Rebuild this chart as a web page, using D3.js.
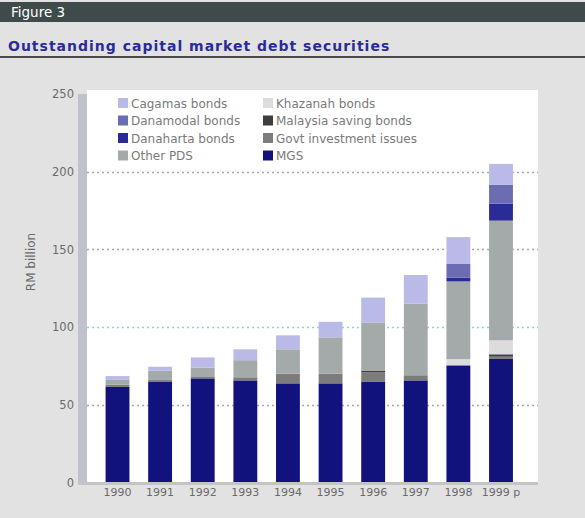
<!DOCTYPE html>
<html>
<head>
<meta charset="utf-8">
<script src="https://cdn.jsdelivr.net/npm/d3@7"></script>
<style>
  html, body { margin: 0; padding: 0; background: #e2e2e2; }
  svg { display: block; }
</style>
</head>
<body>
<svg id="chart" width="585" height="518"></svg>
<script>
// Outstanding capital market debt securities, RM billion
const years = ["1990", "1991", "1992", "1993", "1994", "1995", "1996", "1997", "1998", "1999 p"];

const mgs       = [61.5, 65.0, 67.0, 65.7, 63.8, 63.8, 65.0, 65.7, 75.4, 79.5];
const govtInv   = [1.5, 1.0, 1.3, 2.0, 6.2, 6.2, 6.0, 3.3, 0.0, 1.5];
const mySaving  = [0, 0, 0, 0, 0, 0, 1.0, 0, 0, 1.5];
const khazanah  = [0, 0, 0, 0, 0, 0, 0, 0, 4.0, 9.0];
const otherPds  = [3.0, 6.0, 5.7, 11.0, 15.7, 23.4, 31.0, 46.0, 50.0, 77.0];
const danaharta = [0, 0, 0, 0, 0, 0, 0, 0, 2.5, 11.0];
const danamodal = [0, 0, 0, 0, 0, 0, 0, 0, 9.0, 12.0];
const cagamas   = [2.5, 2.5, 6.5, 7.0, 9.0, 10.0, 16.0, 18.5, 17.0, 13.5];

const yTicks = [0, 50, 100, 150, 200, 250];

// stacking order, bottom to top
const series = [
  { key: "mgs",       name: "MGS",                    values: mgs,       color: "#12127c" },
  { key: "govtInv",   name: "Govt investment issues", values: govtInv,   color: "#7c7c7c" },
  { key: "mySaving",  name: "Malaysia saving bonds",  values: mySaving,  color: "#3e3e3e" },
  { key: "khazanah",  name: "Khazanah bonds",         values: khazanah,  color: "#dcdcdc" },
  { key: "otherPds",  name: "Other PDS",              values: otherPds,  color: "#a4a9a9" },
  { key: "danaharta", name: "Danaharta bonds",        values: danaharta, color: "#2b2b98" },
  { key: "danamodal", name: "Danamodal bonds",        values: danamodal, color: "#6c6cb2" },
  { key: "cagamas",   name: "Cagamas bonds",          values: cagamas,   color: "#babae8" }
];

// legend layout: two columns of four
const legendCols = [
  ["cagamas", "danamodal", "danaharta", "otherPds"],
  ["khazanah", "mySaving", "govtInv", "mgs"]
];

const table = years.map((yr, i) => {
  const row = { year: yr };
  series.forEach(s => { row[s.key] = s.values[i]; });
  return row;
});

const svg = d3.select("#chart");
const W = 585, H = 518;

// header band
svg.append("rect").attr("x", 0).attr("y", 2).attr("width", W).attr("height", 20).attr("fill", "#3f4a4a");
svg.append("text").attr("x", 11).attr("y", 17)
  .attr("font-family", "DejaVu Sans, sans-serif").attr("font-size", 13.5)
  .attr("fill", "#ffffff").text("Figure 3");

svg.append("text").attr("x", 8).attr("y", 51)
  .attr("font-family", "DejaVu Sans, sans-serif").attr("font-size", 14).attr("font-weight", "bold")
  .attr("letter-spacing", 1)
  .attr("fill", "#2a2a9c").text("Outstanding capital market debt securities");

svg.append("rect").attr("x", 0).attr("y", 56).attr("width", W).attr("height", 2).attr("fill", "#4a4a4a");

// plot area
const plot = { left: 87, right: 538, top: 90, bottom: 483 };

const x = d3.scaleBand().domain(years).range([96.2, 522.3]).paddingInner(0.44).paddingOuter(0.22);
const y = d3.scaleLinear().domain([0, 250]).range([482.5, 94]);

svg.append("rect").attr("x", plot.left).attr("y", plot.top)
  .attr("width", plot.right - plot.left).attr("height", plot.bottom - plot.top).attr("fill", "#ffffff");

// gridlines
const grid = svg.append("g");
yTicks.filter(t => t > 0 && t < 250).forEach(t => {
  grid.append("line")
    .attr("x1", plot.left).attr("x2", plot.right)
    .attr("y1", Math.round(y(t)) + 0.5).attr("y2", Math.round(y(t)) + 0.5)
    .attr("stroke", t === 100 ? "#7fd6de" : "#a8a8a8")
    .attr("stroke-width", 1.4)
    .attr("stroke-dasharray", "2,3");
});

// stacked bars
const stack = d3.stack().keys(series.map(s => s.key));
const stacked = stack(table);
const colorOf = Object.fromEntries(series.map(s => [s.key, s.color]));

svg.append("g").selectAll("g").data(stacked).join("g")
  .attr("fill", d => colorOf[d.key])
  .selectAll("rect").data(d => d).join("rect")
  .attr("x", d => x(d.data.year))
  .attr("width", x.bandwidth())
  .attr("y", d => y(d[1]))
  .attr("height", d => Math.max(0, y(d[0]) - y(d[1])));

// y axis: thick gray rail
svg.append("rect").attr("x", 78).attr("y", y(250)).attr("width", 9).attr("height", y(0) - y(250) + 1)
  .attr("fill", "#bfc2cc");

const yAxis = d3.axisLeft(y).tickValues(yTicks).tickSize(0).tickPadding(0);
const yg = svg.append("g").attr("transform", "translate(74,0)").call(yAxis);
yg.select(".domain").remove();
yg.selectAll("text").attr("font-family", "DejaVu Sans, sans-serif").attr("font-size", 11.5).attr("fill", "#6a6a6a");

// x axis
svg.append("rect").attr("x", 78).attr("y", 482).attr("width", plot.right - 78).attr("height", 3).attr("fill", "#c4c4c4");
const xAxis = d3.axisBottom(x).tickSize(0).tickPadding(0);
const xg = svg.append("g").attr("transform", "translate(0,488)").call(xAxis);
xg.select(".domain").remove();
xg.selectAll("text").attr("font-family", "DejaVu Sans, sans-serif").attr("font-size", 11).attr("fill", "#6a6a6a");

// axis title
svg.append("text")
  .attr("transform", "translate(35,262) rotate(-90)")
  .attr("text-anchor", "middle")
  .attr("font-family", "DejaVu Sans, sans-serif").attr("font-size", 12).attr("fill", "#6a6a6a")
  .text("RM billion");

// legend
const seriesByKey = Object.fromEntries(series.map(s => [s.key, s]));
const legendX = [118, 263];
const legendY0 = 103, legendDy = 17.5;
legendCols.forEach((col, ci) => {
  col.forEach((key, ri) => {
    const s = seriesByKey[key];
    const g = svg.append("g").attr("transform", `translate(${legendX[ci]},${legendY0 + ri * legendDy})`);
    g.append("rect").attr("x", 0).attr("y", -5).attr("width", 10).attr("height", 10).attr("fill", s.color);
    g.append("text").attr("x", 13).attr("y", 4.5)
      .attr("font-family", "DejaVu Sans, sans-serif").attr("font-size", 12).attr("fill", "#7a7a7a")
      .text(s.name);
  });
});
</script>
</body>
</html>
